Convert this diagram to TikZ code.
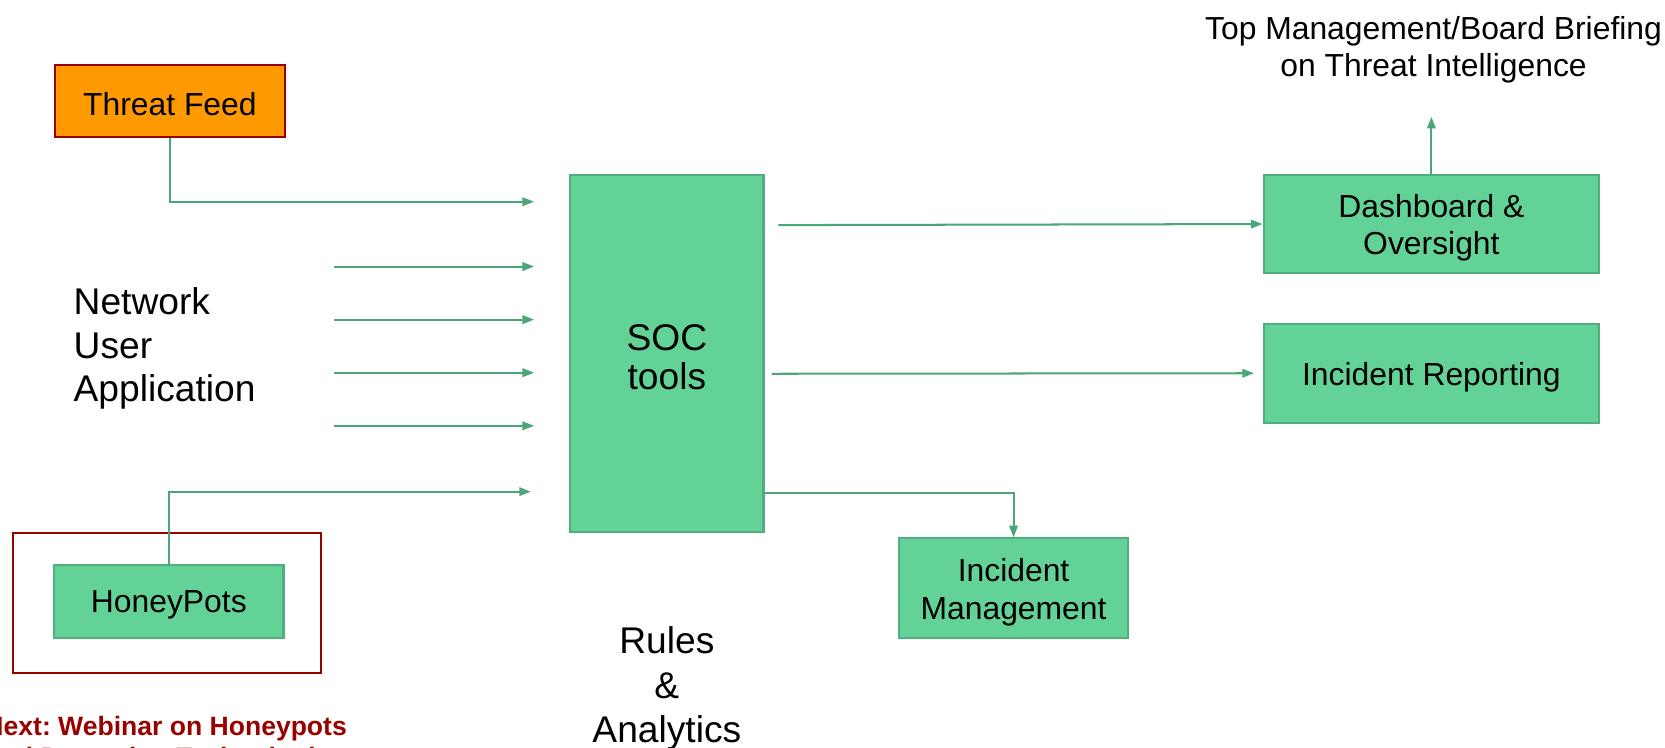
\documentclass[tikz,border=0pt]{standalone}
\usepackage{fontspec}
\setmainfont{Liberation Sans}
\frenchspacing
\usetikzlibrary{arrows.meta,calc}
\definecolor{boxgreen}{HTML}{63D297}
\definecolor{boxedge}{HTML}{52AE7E}
\definecolor{arrowgreen}{HTML}{4BA777}
\definecolor{feedorange}{HTML}{FF9900}
\definecolor{darkred}{HTML}{990000}
\tikzset{
  gbox/.style={draw=boxedge, line width=1pt, fill=boxgreen, inner sep=0pt},
  boxtext/.style={inner sep=0pt, align=center, yshift=-1.75pt, font=\fontsize{15}{17.5}\selectfont},
  conn/.style={draw=arrowgreen, line width=0.95pt, -{Triangle[length=5.5pt,width=4pt]}},
  bigtext/.style={inner sep=0pt, font=\fontsize{17.5}{20.5}\selectfont},
}
\begin{document}
\begin{tikzpicture}[x=0.5pt,y=-0.5pt]
\useasboundingbox (0,0) rectangle (1568,704);
\clip (0,0) rectangle (1568,704);
% nodes
\node[gbox, fill=feedorange, draw=darkred, minimum width=108pt, minimum height=34pt,
  label={[boxtext]center:{Threat Feed}}] (tf) at (160,95) {};
\node[draw=darkred, line width=1pt, minimum width=145pt, minimum height=66pt, inner sep=0pt] (hpframe) at (157,568) {};
\node[gbox, minimum width=108pt, minimum height=34.5pt,
  label={[boxtext]center:{HoneyPots}}] (hp) at (159,566.5) {};
\node[gbox, minimum width=91pt, minimum height=168pt,
  label={[boxtext, font=\fontsize{17.5}{18}\selectfont]center:{SOC\\tools}}] (soc) at (628,333) {};
\node[gbox, minimum width=158pt, minimum height=46pt,
  label={[boxtext]center:{Dashboard \&\\Oversight}}] (dash) at (1348,211) {};
\node[gbox, minimum width=158pt, minimum height=46.5pt,
  label={[boxtext]center:{Incident Reporting}}] (ir) at (1348,351.5) {};
\node[gbox, minimum width=107.5pt, minimum height=47pt,
  label={[boxtext, font=\fontsize{15}{18}\selectfont]center:{Incident\\Management}}] (im) at (954.5,554) {};
\node[inner sep=0pt, align=center, font=\fontsize{15}{17.5}\selectfont] (topbrief) at (1350,46.5) {Top Management/Board Briefing\\on Threat Intelligence};
\node[bigtext, align=left, anchor=west] (nua) at (69,328.5) {Network\\User\\Application};
\node[bigtext, align=center, font=\fontsize{17.5}{21}\selectfont] (rules) at (628,648.5) {Rules\\\&\\Analytics};
\node[inner sep=0pt, align=center, text=darkred, font=\bfseries\fontsize{12.5}{14.5}\selectfont] (next) at (156,701) {Next: Webinar on Honeypots\\and Deception Technologies};
% free ends
\coordinate (in1) at (503,190);
\coordinate (s2) at (315,251); \coordinate (in2) at (503,251);
\coordinate (s3) at (315,301); \coordinate (in3) at (503,301);
\coordinate (s4) at (315,351); \coordinate (in4) at (503,351);
\coordinate (s5) at (315,401); \coordinate (in5) at (503,401);
\coordinate (in6) at (500,463);
\coordinate (o1) at (733,212);
\coordinate (o2) at (727,352);
\coordinate (o3) at (719,464);
\coordinate (topend) at (1348,110);
% connectors
\draw[conn] (tf.south) |- (in1);
\draw[conn] (s2) -- (in2);
\draw[conn] (s3) -- (in3);
\draw[conn] (s4) -- (in4);
\draw[conn] (s5) -- (in5);
\draw[conn] (hp.north) |- (in6);
\draw[conn] (o1) -- (dash.west);
\draw[conn] (o2) -- ([xshift=-4pt]ir.west);
\draw[conn] (o3) -| (im.north);
\draw[conn] (dash.north) -- (topend);
\end{tikzpicture}
\end{document}
